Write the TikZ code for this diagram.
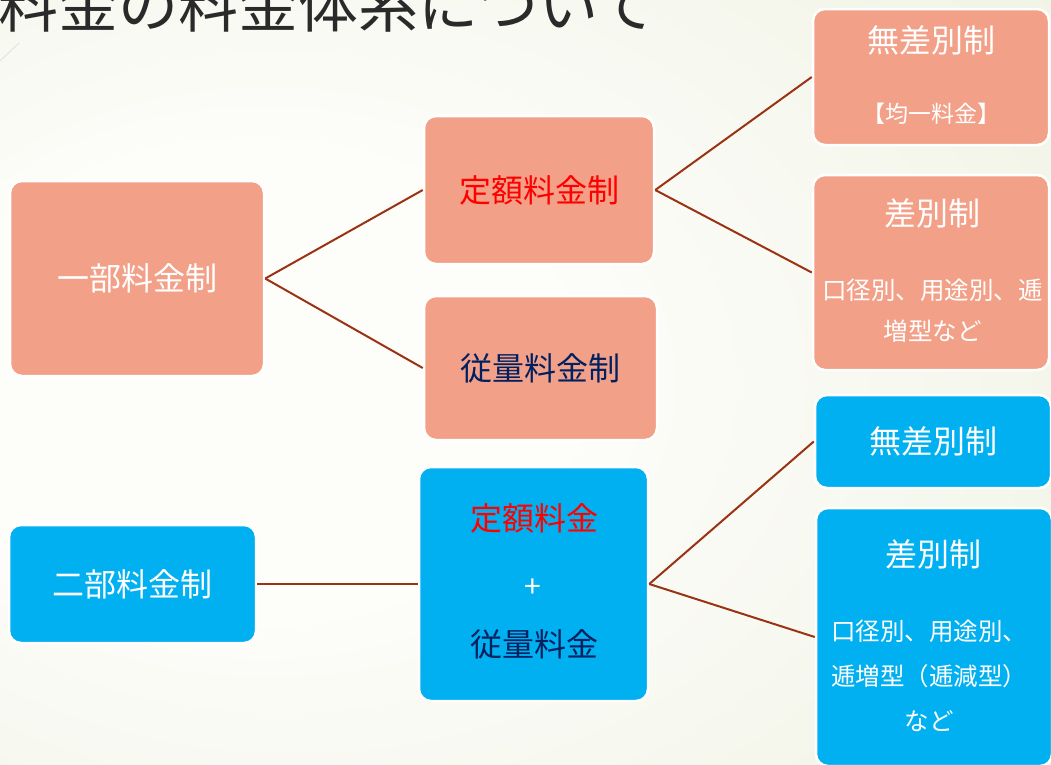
\documentclass[tikz,border=0pt]{standalone}
\usepackage{fontspec}
\setmainfont{Noto Sans CJK JP}
\definecolor{feesalmon}{HTML}{F3A088}
\definecolor{feeblue}{HTML}{00B0F0}
\definecolor{feered}{HTML}{FF0000}
\definecolor{feenavy}{HTML}{002060}
\definecolor{feelink}{HTML}{9A3214}
\definecolor{titlegray}{HTML}{2A2A2A}
\definecolor{bgin}{HTML}{FDFDFA}
\definecolor{bgout}{HTML}{E4E9CF}
\pgfdeclareradialshading{slidebg}{\pgfpoint{-17bp}{0bp}}{color(0bp)=(bgin); color(15bp)=(bgin); color(68bp)=(bgout)}
\tikzset{
  feebox/.style={rectangle, rounded corners=12pt, draw=white, line width=2.5pt, inner sep=0pt, text=white},
  salmonbox/.style={feebox, fill=feesalmon},
  bluebox/.style={feebox, fill=feeblue},
  link/.style={draw=feelink, line width=2pt},
  bigtxt/.style={font=\fontsize{32}{38}\selectfont},
  subtxt/.style={inner sep=0pt, text=white, align=center},
}

\begin{document}
\begin{tikzpicture}[x=1pt,y=-1pt]
			%%%%% START %%%%%
			\useasboundingbox (0,0) rectangle (1051,764);
			\shade[shading=slidebg] (0,0) rectangle (1051,764);
			\draw[black!12, line width=0.8pt] (0,61) -- (19,43);
			
			% title (cut by the top edge)
			\node[anchor=base west, inner sep=0pt, text=titlegray, font=\fontsize{60}{70}\selectfont] (title) at (-2,27) {料金の料金体系について};
			
			% one-part tariff
			\node[salmonbox, minimum width=254pt, minimum height=195pt, bigtxt] (ichibu) at (137,278.5) {一部料金制};
			\node[salmonbox, minimum width=230pt, minimum height=148pt, bigtxt, text=feered] (teigaku) at (539,190) {定額料金制};
			\node[salmonbox, minimum width=233pt, minimum height=144pt, bigtxt, text=feenavy] (juryo) at (540.5,368) {従量料金制};
			
			\node[salmonbox, minimum width=236pt, minimum height=136pt] (musabetsuA) at (931,77) {};
			\node[subtxt, bigtxt] (musabetsuAhead) at (931,40) {無差別制};
			\node[subtxt, font=\fontsize{23}{28}\selectfont] (musabetsuAnote) at (931,114) {【均一料金】};
			
			\node[salmonbox, minimum width=236pt, minimum height=195pt] (sabetsuA) at (931,272.5) {};
			\node[subtxt, bigtxt] (sabetsuAhead) at (932,213) {差別制};
			\node[subtxt, font=\fontsize{24.5}{41}\selectfont] (sabetsuAnote) at (932.5,311) {口径別、用途別、逓\\増型など};
			
			\draw[link] (ichibu.east) -- (teigaku.west);
			\draw[link] (ichibu.east) -- (juryo.west);
			\draw[link] (teigaku.east) -- (musabetsuA.west);
			\draw[link] (teigaku.east) -- (sabetsuA.west);
			
			% two-part tariff
			\node[bluebox, minimum width=247pt, minimum height=118pt, bigtxt] (nibu) at (132.5,584) {二部料金制};
			
			\node[bluebox, minimum width=229pt, minimum height=234pt] (nibufee) at (533.5,584) {};
			\node[subtxt, bigtxt, text=feered] (nibufixed) at (534,518) {定額料金};
			\node[subtxt, font=\fontsize{30}{34}\selectfont] (nibuplus) at (533,588) {+};
			\node[subtxt, bigtxt, text=feenavy] (nibumeter) at (534,644) {従量料金};
			
			\node[bluebox, minimum width=236pt, minimum height=93pt, bigtxt] (musabetsuB) at (933,441.5) {無差別制};
			
			\node[bluebox, minimum width=236pt, minimum height=258pt] (sabetsuB) at (934,637) {};
			\node[subtxt, bigtxt] (sabetsuBhead) at (933,554) {差別制};
			\node[subtxt, font=\fontsize{24.5}{45}\selectfont] (sabetsuBnote) at (929,676) {口径別、用途別、\\逓増型（逓減型）\\など};
			
			\draw[link] (nibu.east) -- (nibufee.west);
			\draw[link] (nibufee.east) -- (musabetsuB.west);
			\draw[link] (nibufee.east) -- (sabetsuB.west);
			%%%%% END %%%%%
\end{tikzpicture}
\end{document}
